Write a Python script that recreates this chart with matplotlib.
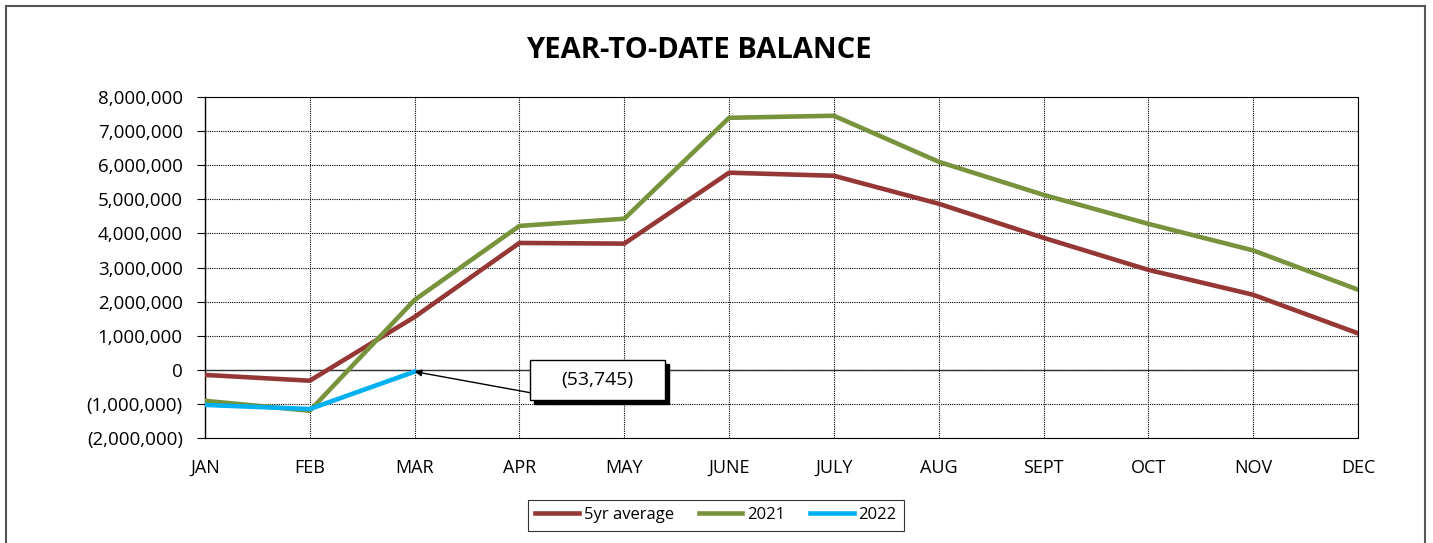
import matplotlib
matplotlib.use("Agg")
import matplotlib.pyplot as plt
from matplotlib.patches import Rectangle
from matplotlib.ticker import FuncFormatter

months = ["JAN", "FEB", "MAR", "APR", "MAY", "JUNE", "JULY", "AUG", "SEPT", "OCT", "NOV", "DEC"]
avg5 = [-150000, -320000, 1550000, 3720000, 3700000, 5780000, 5690000, 4870000, 3870000, 2930000, 2200000, 1070000]
y2021 = [-910000, -1200000, 2050000, 4220000, 4430000, 7390000, 7450000, 6100000, 5130000, 4280000, 3500000, 2350000]
y2022 = [-1030000, -1150000, -53745]
annot_label = "(53,745)"

plt.rcParams['font.family'] = ['Open Sans', 'DejaVu Sans']

W, H = 1433, 543
fig = plt.figure(figsize=(W/100, H/100), dpi=100)
fig.patches.append(Rectangle((6/W, -0.02), (1425-6)/W, 1 - 6/H + 0.02, transform=fig.transFigure,
                             fill=False, edgecolor='#555555', linewidth=1.5))
ax = fig.add_axes([205/W, 1-438/H, (1358-205)/W, (438-97)/H])

x = list(range(len(months)))
ax.plot(x, avg5, color='#953735', lw=3.3, label='5yr average', solid_joinstyle='round', zorder=3)
ax.plot(x, y2021, color='#77933C', lw=3.3, label='2021', solid_joinstyle='round', zorder=3)
ax.plot(x[:len(y2022)], y2022, color='#00B0F0', lw=3.3, label='2022', solid_joinstyle='round', zorder=3)

ax.set_xlim(0, 11)
ax.set_ylim(-2000000, 8000000)
ax.set_yticks(range(-2000000, 8000001, 1000000))
def fmt(v, p):
    v = int(round(v))
    if v < 0:
        return "({:,})".format(-v)
    return "{:,}".format(v)
ax.yaxis.set_major_formatter(FuncFormatter(fmt))
ax.set_xticks(x)
ax.set_xticklabels(months)
ax.grid(True, color='black', linestyle=(0, (1, 1)), linewidth=0.8)
ax.axhline(0, color='#333333', lw=1.0, zorder=2)
for s in ['top', 'right', 'bottom']:
    ax.spines[s].set_linestyle((0, (1, 1)))
    ax.spines[s].set_linewidth(0.8)
ax.spines['left'].set_color('black')
ax.spines['left'].set_linewidth(1.0)
ax.tick_params(axis='y', length=6, direction='out', labelsize=13.5, pad=10)
ax.tick_params(axis='x', length=0, labelsize=13, pad=15)

# annotation callout box (in axes data coordinates)
bx0, bx1 = 3.10, 4.39
by0, by1 = -880000, 290000
sx, sy = 0.04, -120000
ax.add_patch(Rectangle((bx0 + sx, by0 + sy), bx1 - bx0, by1 - by0, fc='black', ec='black', zorder=5))
ax.add_patch(Rectangle((bx0, by0), bx1 - bx0, by1 - by0, fc='white', ec='black', lw=1, zorder=6))
ax.text((bx0 + bx1) / 2, (by0 + by1) / 2, annot_label, fontsize=14, ha='center', va='center', zorder=7)
ax.annotate("", xy=(2, y2022[2]), xytext=(bx0, -670000),
            arrowprops=dict(arrowstyle='-|>', color='black', lw=1, shrinkA=0, shrinkB=0,
                            mutation_scale=10), zorder=4)

fig.text(699/W, 1-50/H, "YEAR-TO-DATE BALANCE", ha='center', va='center', fontsize=21, fontweight='bold')

leg = fig.legend(loc='center', bbox_to_anchor=(716/W, 1-515/H), ncol=3, frameon=True,
                 fancybox=False, edgecolor='black', fontsize=12, handlelength=2.6,
                 handletextpad=0.3, columnspacing=1.5, borderpad=0.45)
leg.get_frame().set_linewidth(0.8)

fig.savefig("out.png", dpi=100)
